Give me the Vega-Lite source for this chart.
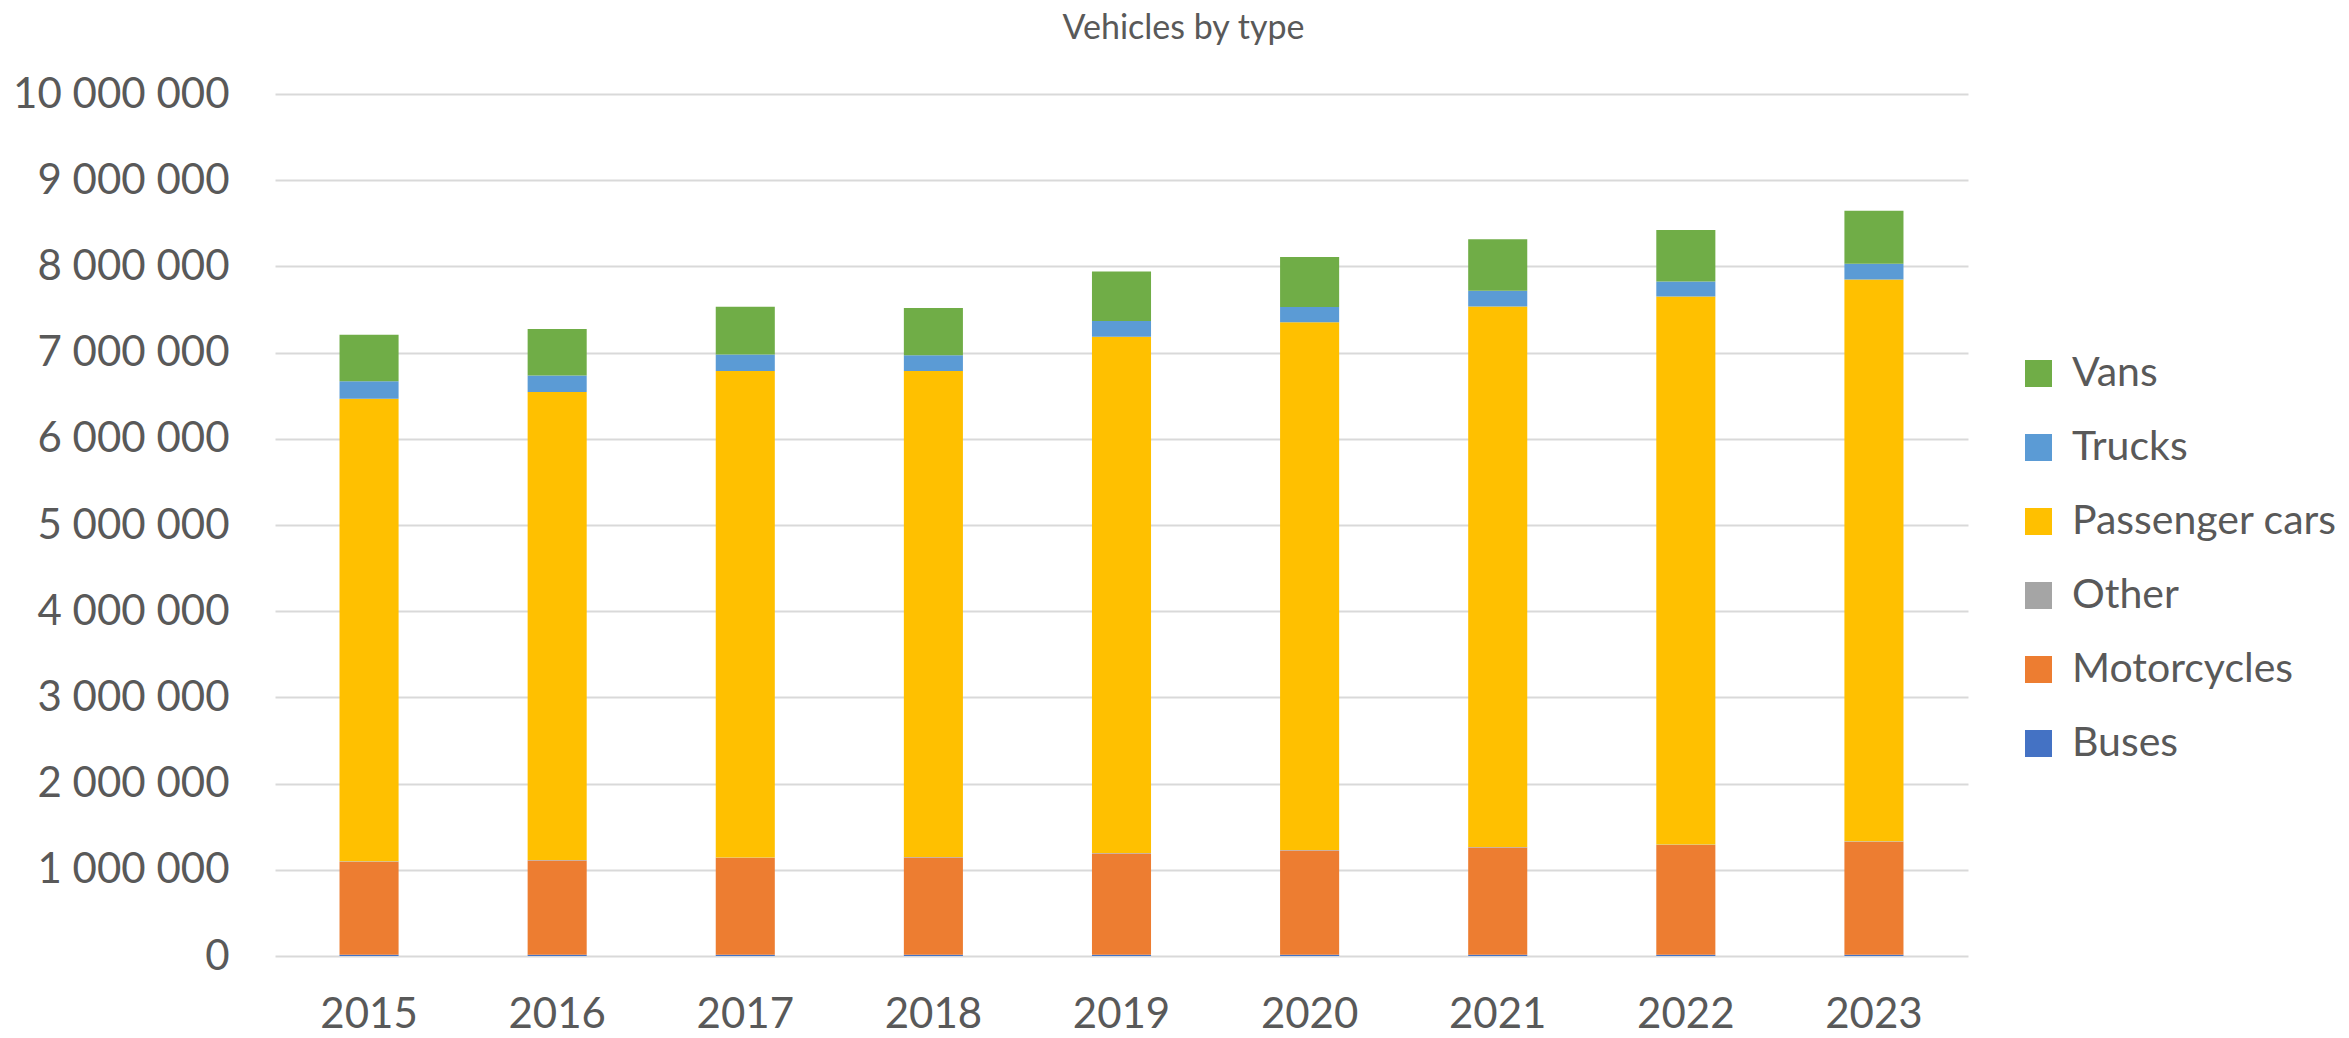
{
  "$schema": "https://vega.github.io/schema/vega-lite/v6.json",
  "width": 1693,
  "height": 862,
  "autosize": {"type": "none"},
  "padding": {"left": 275, "top": 94, "right": 381, "bottom": 82},
  "background": "white",
  "title": {
    "text": "Vehicles by type",
    "font": "Lato",
    "fontSize": 34,
    "fontWeight": "normal",
    "color": "#595959",
    "anchor": "middle",
    "frame": "group",
    "dx": 62,
    "baseline": "alphabetic",
    "offset": 0
  },
  "data": {
    "values": [
      {"year": "2015", "type": "Buses", "value": 15000},
      {"year": "2015", "type": "Motorcycles", "value": 1078000},
      {"year": "2015", "type": "Other", "value": 5000},
      {"year": "2015", "type": "Passenger cars", "value": 5368000},
      {"year": "2015", "type": "Trucks", "value": 202000},
      {"year": "2015", "type": "Vans", "value": 539000},
      {"year": "2016", "type": "Buses", "value": 15000},
      {"year": "2016", "type": "Motorcycles", "value": 1093000},
      {"year": "2016", "type": "Other", "value": 5000},
      {"year": "2016", "type": "Passenger cars", "value": 5431000},
      {"year": "2016", "type": "Trucks", "value": 191000},
      {"year": "2016", "type": "Vans", "value": 540000},
      {"year": "2017", "type": "Buses", "value": 15000},
      {"year": "2017", "type": "Motorcycles", "value": 1124000},
      {"year": "2017", "type": "Other", "value": 5000},
      {"year": "2017", "type": "Passenger cars", "value": 5643000},
      {"year": "2017", "type": "Trucks", "value": 192000},
      {"year": "2017", "type": "Vans", "value": 554000},
      {"year": "2018", "type": "Buses", "value": 15000},
      {"year": "2018", "type": "Motorcycles", "value": 1129000},
      {"year": "2018", "type": "Other", "value": 5000},
      {"year": "2018", "type": "Passenger cars", "value": 5638000},
      {"year": "2018", "type": "Trucks", "value": 182000},
      {"year": "2018", "type": "Vans", "value": 549000},
      {"year": "2019", "type": "Buses", "value": 15000},
      {"year": "2019", "type": "Motorcycles", "value": 1174000},
      {"year": "2019", "type": "Other", "value": 5000},
      {"year": "2019", "type": "Passenger cars", "value": 5991000},
      {"year": "2019", "type": "Trucks", "value": 183000},
      {"year": "2019", "type": "Vans", "value": 574000},
      {"year": "2020", "type": "Buses", "value": 15000},
      {"year": "2020", "type": "Motorcycles", "value": 1209000},
      {"year": "2020", "type": "Other", "value": 5000},
      {"year": "2020", "type": "Passenger cars", "value": 6122000},
      {"year": "2020", "type": "Trucks", "value": 177000},
      {"year": "2020", "type": "Vans", "value": 580000},
      {"year": "2021", "type": "Buses", "value": 15000},
      {"year": "2021", "type": "Motorcycles", "value": 1245000},
      {"year": "2021", "type": "Other", "value": 5000},
      {"year": "2021", "type": "Passenger cars", "value": 6269000},
      {"year": "2021", "type": "Trucks", "value": 183000},
      {"year": "2021", "type": "Vans", "value": 598000},
      {"year": "2022", "type": "Buses", "value": 15000},
      {"year": "2022", "type": "Motorcycles", "value": 1274000},
      {"year": "2022", "type": "Other", "value": 5000},
      {"year": "2022", "type": "Passenger cars", "value": 6358000},
      {"year": "2022", "type": "Trucks", "value": 172000},
      {"year": "2022", "type": "Vans", "value": 597000},
      {"year": "2023", "type": "Buses", "value": 15000},
      {"year": "2023", "type": "Motorcycles", "value": 1310000},
      {"year": "2023", "type": "Other", "value": 5000},
      {"year": "2023", "type": "Passenger cars", "value": 6517000},
      {"year": "2023", "type": "Trucks", "value": 184000},
      {"year": "2023", "type": "Vans", "value": 615000}
    ]
  },
  "mark": {"type": "bar"},
  "encoding": {
    "x": {
      "field": "year",
      "type": "nominal",
      "scale": {"paddingInner": 0.686, "paddingOuter": 0.343},
      "axis": {
        "title": null,
        "labelAngle": 0,
        "labelFont": "Lato",
        "labelFontSize": 42,
        "labelColor": "#595959",
        "labelBaseline": "alphabetic",
        "labelPadding": 71,
        "labelLimit": 0,
        "ticks": false,
        "domain": false
      }
    },
    "y": {
      "field": "value",
      "type": "quantitative",
      "stack": "zero",
      "scale": {"domain": [0, 10000000], "nice": false},
      "axis": {
        "title": null,
        "values": [0, 1000000, 2000000, 3000000, 4000000, 5000000, 6000000, 7000000, 8000000, 9000000, 10000000],
        "labelExpr": "replace(format(datum.value, ',d'), regexp(',', 'g'), ' ')",
        "labelFont": "Lato",
        "labelFontSize": 42,
        "labelColor": "#595959",
        "labelPadding": 46,
        "labelLimit": 0,
        "ticks": false,
        "domain": false,
        "grid": true,
        "gridColor": "#d9d9d9",
        "gridWidth": 2
      }
    },
    "color": {
      "field": "type",
      "type": "nominal",
      "scale": {
        "domain": ["Vans", "Trucks", "Passenger cars", "Other", "Motorcycles", "Buses"],
        "range": ["#70AD47", "#5B9BD5", "#FFC000", "#A5A5A5", "#ED7D31", "#4472C4"]
      },
      "legend": {
        "title": null,
        "orient": "none",
        "legendX": 1743,
        "legendY": 259,
        "symbolType": "square",
        "symbolSize": 729,
        "symbolStrokeWidth": 0,
        "labelFont": "Lato",
        "labelFontSize": 41,
        "labelColor": "#595959",
        "labelOffset": 13,
        "labelLimit": 0,
        "rowPadding": 32
      }
    },
    "order": {"field": "type", "sort": "ascending"}
  },
  "config": {
    "view": {"stroke": null}
  }
}
